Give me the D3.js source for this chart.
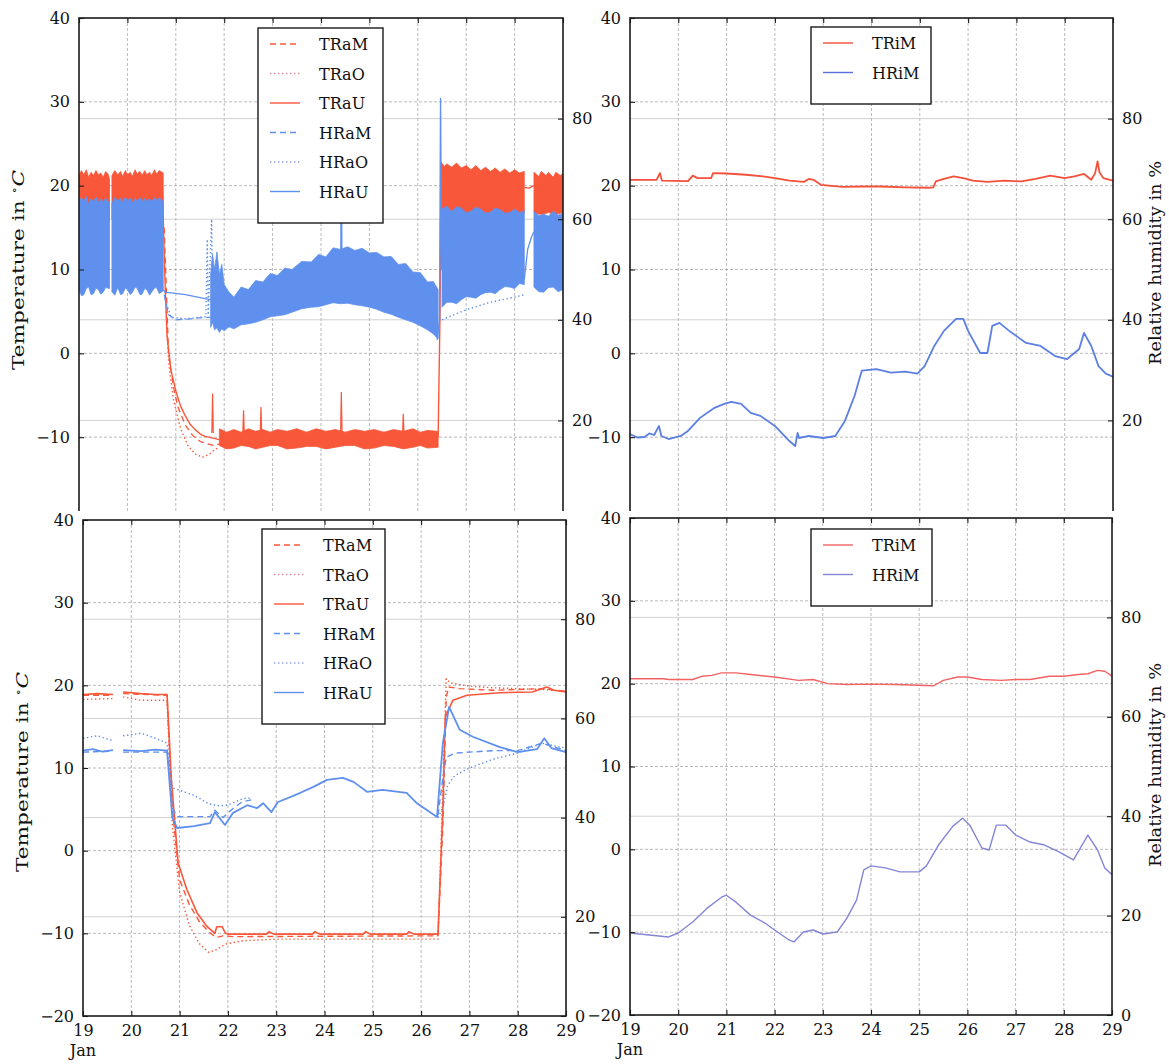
<!DOCTYPE html>
<html><head><meta charset="utf-8">
<script src="https://cdn.jsdelivr.net/npm/d3@7"></script>
<style>
body{margin:0;background:#fff}
svg{display:block}
text{font-family:"DejaVu Serif","Liberation Serif",serif;fill:#111}
</style>
</head><body>
<svg id="c" width="1169" height="1064"></svg>
<script>
// ---------------- DATA ----------------
const dayTicks = [19,20,21,22,23,24,25,26,27,28,29];
const tempTicks = [-20,-10,0,10,20,30,40];
const humTicks = [0,20,40,60,80];
const legendTop = ["TRaM","TRaO","TRaU","HRaM","HRaO","HRaU"];
const legendIn = ["TRiM","HRiM"];

// Top-left: oscillating bands [day, low, high]
const tlTRaBand1 = [[19.0,15.5,21.2],[19.05,15.8,21.8],[19.1,15.8,21.3],[19.15,16.0,21.9],[19.2,16.0,21.0],[19.25,15.7,21.6],[19.3,15.6,21.2],[19.35,15.9,21.8],[19.4,15.9,21.3],[19.45,16.0,21.5],[19.5,16.1,21.0],[19.55,15.9,21.7],[19.6,15.8,21.4],[19.63,15.8,20.8]];
const tlTRaBand2 = [[19.68,16.0,21.2],[19.74,15.9,21.8],[19.8,15.8,21.3],[19.86,16.0,21.7],[19.9,16.0,21.1],[19.96,15.8,21.8],[20.0,15.7,21.3],[20.06,16.0,21.6],[20.1,16.0,21.1],[20.16,15.8,21.9],[20.2,15.8,21.4],[20.26,16.0,21.7],[20.3,16.1,21.2],[20.36,15.8,21.8],[20.4,15.9,21.3],[20.46,16.0,21.6],[20.5,16.0,21.2],[20.56,15.8,21.9],[20.6,15.7,21.4],[20.66,15.9,21.8],[20.74,16.0,21.5]];
const tlTRaBand3 = [[21.9,-11.0,-9.0],[22.05,-11.4,-9.4],[22.2,-11.3,-9.1],[22.35,-11.0,-9.4],[22.5,-11.1,-9.0],[22.65,-11.4,-9.3],[22.8,-11.2,-9.1],[22.95,-11.0,-9.4],[23.1,-11.0,-9.1],[23.3,-11.4,-9.3],[23.5,-11.3,-9.0],[23.7,-11.1,-9.4],[23.9,-11.1,-9.0],[24.1,-11.4,-9.3],[24.3,-11.2,-9.1],[24.5,-11.0,-9.4],[24.7,-11.0,-9.1],[24.9,-11.4,-9.3],[25.1,-11.3,-9.1],[25.3,-11.0,-9.4],[25.5,-11.1,-9.1],[25.7,-11.4,-9.3],[25.9,-11.2,-9.0],[26.05,-11.0,-9.4],[26.2,-11.3,-9.2],[26.42,-11.2,-9.3]];
const tlTRaBand4 = [[26.48,16.5,22.8],[26.55,16.6,22.3],[26.6,16.6,22.6],[26.7,16.4,22.2],[26.8,16.4,22.7],[26.9,16.6,22.1],[27.0,16.6,22.4],[27.1,16.5,21.9],[27.2,16.5,22.4],[27.3,16.6,21.8],[27.4,16.7,22.2],[27.5,16.5,21.7],[27.6,16.5,22.1],[27.7,16.6,21.6],[27.8,16.6,22.0],[27.9,16.5,21.5],[28.0,16.5,21.9],[28.1,16.6,21.5],[28.2,16.7,21.7]];
const tlTRaBand5 = [[28.4,16.8,21.6],[28.5,16.6,21.1],[28.55,16.6,21.7],[28.65,16.7,21.2],[28.7,16.8,21.6],[28.8,16.6,21.0],[28.85,16.6,21.6],[28.95,16.7,21.2],[29.0,16.8,21.5]];
const tlTRaSpikes = [[21.76,-4.8],[22.4,-6.8],[22.76,-6.4],[24.42,-4.6],[25.7,-7.2]];
const tlTRaGap = [[28.2,19.8],[28.3,19.7],[28.4,20.0]];
const tlTRaU = [[20.72,20.5],[20.78,8],[20.82,2],[20.9,-2],[21.0,-4.5],[21.1,-6.3],[21.2,-7.5],[21.3,-8.5],[21.4,-9.1],[21.5,-9.6],[21.6,-9.9],[21.68,-10],[21.9,-10.3],[26.0,null],[26.42,-10],[26.46,5],[26.48,22]];
const tlTRaM = [[20.76,15],[20.85,0],[20.95,-4],[21.05,-6.5],[21.2,-8.6],[21.35,-9.8],[21.5,-10.5],[21.65,-10.8],[21.8,-11],[21.9,-10.8]];
const tlTRaO = [[20.8,5],[20.85,-1],[20.95,-5.5],[21.1,-9],[21.25,-11],[21.4,-12],[21.55,-12.4],[21.7,-12],[21.8,-11.5],[21.9,-11.2]];

const tlHRaBand1 = [[19.0,46.0,63.5],[19.05,44.8,64.3],[19.1,45.0,63.6],[19.15,46.2,64.5],[19.2,46.5,63.0],[19.25,45.0,64.1],[19.3,45.2,63.4],[19.35,46.3,64.4],[19.4,46.0,63.4],[19.45,45.1,64.0],[19.5,45.5,63.3],[19.55,46.4,64.2],[19.63,46.2,63.2]];
const tlHRaBand2 = [[19.68,45.6,63.2],[19.74,44.9,64.3],[19.8,46.4,63.6],[19.86,45.0,64.2],[19.9,45.2,63.4],[19.96,46.3,64.4],[20.0,46.0,63.6],[20.06,45.0,64.2],[20.1,45.4,63.3],[20.16,46.5,64.1],[20.2,46.3,63.5],[20.26,45.0,64.3],[20.3,45.1,63.5],[20.36,46.2,64.2],[20.4,46.0,63.5],[20.46,44.9,64.1],[20.5,45.5,63.4],[20.56,46.3,64.3],[20.6,46.4,63.8],[20.66,45.2,64.2],[20.74,45.8,63.5]];
const tlHRaBand3 = [[21.72,38.5,49],[21.76,39.5,53],[21.8,38,50],[21.85,38.4,53.5],[21.9,37.5,49],[21.95,38.2,51],[22.0,37.8,47],[22.1,38.6,45.5],[22.2,38.2,44.5],[22.35,39.0,46.5],[22.5,39.2,46],[22.65,39.5,47.8],[22.8,40,47.5],[22.95,40.6,49.2],[23.1,40.8,48.8],[23.25,41.0,50.3],[23.4,41.5,50],[23.6,42.2,51.6],[23.8,42.5,51.5],[23.95,42.6,53],[24.1,43,52.5],[24.25,43.4,54.3],[24.4,43.2,54],[24.55,43.3,54.5],[24.7,43,53.8],[24.85,42.8,54.2],[25.0,42.5,53.3],[25.15,42.1,53.4],[25.3,41.5,52.5],[25.45,41.1,52.6],[25.6,40.5,51],[25.75,40.0,51.2],[25.9,39.5,49.5],[26.05,38.8,49.4],[26.2,38,47.5],[26.32,37.2,47.6],[26.42,36.2,46]];
const tlHRaBand4 = [[26.5,42.5,62.0],[26.6,43.5,62.6],[26.7,43.5,61.5],[26.8,43.2,62.5],[26.9,44.0,62.2],[27.0,44.6,61.3],[27.1,44.5,61.6],[27.2,44.3,62.4],[27.3,45.0,62.0],[27.4,45.4,61.2],[27.5,45.5,61.4],[27.6,45.2,62.2],[27.7,46.0,61.9],[27.8,46.6,61.2],[27.9,46.5,61.3],[28.0,46.2,62.0],[28.1,47.2,61.3],[28.2,47.0,61.7]];
const tlHRaBand5 = [[28.4,46.5,61.5],[28.5,45.6,60.7],[28.6,45.5,61.0],[28.7,46.4,60.6],[28.8,46.5,61.6],[28.9,45.6,60.8],[29.0,46.0,61.2]];
const tlHRaGap = [[28.2,48],[28.27,54],[28.35,56.5],[28.4,57.5]];
const tlHRaU = [[20.74,46],[20.78,45.5],[21.2,45],[21.6,44.2],[21.72,44],[24.0,null],[24.41,53],[24.42,77.5],[24.43,53],[25.0,null],[26.4,36],[26.45,40],[26.47,84],[26.49,50],[26.5,55]];
const tlHRaM = [[20.76,45],[20.85,41],[21.0,40.0],[21.3,40.2],[21.6,40.5],[21.72,40.5]];
const tlHRaO = [[20.78,44],[20.9,40.5],[21.2,40.2],[21.5,40.5],[21.62,40.6],[21.65,56],[21.67,41],[21.74,60],[21.76,41],[22.0,null],[26.5,40],[27.0,42],[27.5,43.5],[28.0,44.5],[28.2,45]];

// Top-right
const trTRiM = [[19.0,20.7],[19.55,20.7],[19.62,21.5],[19.66,20.6],[20.2,20.55],[20.3,21.2],[20.4,20.9],[20.68,20.9],[20.72,21.5],[21.0,21.45],[21.4,21.3],[21.75,21.1],[22.0,20.9],[22.3,20.6],[22.6,20.45],[22.7,20.8],[22.8,20.7],[22.95,20.1],[23.4,19.85],[23.8,19.9],[24.2,19.9],[24.7,19.8],[25.2,19.75],[25.28,19.8],[25.33,20.5],[25.5,20.8],[25.7,21.1],[25.9,20.9],[26.1,20.6],[26.4,20.45],[26.75,20.6],[27.1,20.5],[27.4,20.8],[27.7,21.2],[28.0,20.9],[28.2,21.1],[28.4,21.4],[28.55,20.7],[28.63,21.5],[28.68,22.9],[28.72,21.6],[28.8,20.9],[29.0,20.6]];
const trHRiM = [[19.0,17.3],[19.15,16.6],[19.3,16.7],[19.4,17.4],[19.5,17.1],[19.6,18.9],[19.65,16.9],[19.8,16.3],[20.05,16.9],[20.2,17.9],[20.45,20.5],[20.75,22.5],[20.95,23.3],[21.1,23.7],[21.3,23.3],[21.5,21.5],[21.7,20.9],[22.0,18.9],[22.3,15.9],[22.42,14.9],[22.47,17.5],[22.5,16.5],[22.7,16.9],[23.0,16.5],[23.25,16.9],[23.45,19.9],[23.65,24.9],[23.8,29.9],[24.1,30.2],[24.4,29.5],[24.7,29.7],[24.95,29.3],[25.1,30.8],[25.3,34.8],[25.5,37.8],[25.75,40.2],[25.9,40.2],[26.0,37.8],[26.25,33.4],[26.4,33.4],[26.5,38.8],[26.65,39.4],[26.85,37.8],[27.2,35.4],[27.5,34.8],[27.8,32.8],[28.05,32.2],[28.3,34.2],[28.4,37.4],[28.55,34.8],[28.7,30.8],[28.85,29.3],[29.0,28.7]];

// Bottom-left
const blTRaU = [[19,18.9],[19.3,19.0],[19.62,18.9],[19.72,null],[19.83,19.2],[20.2,19.0],[20.5,18.9],[20.74,18.9],[20.83,8.6],[20.97,-1.5],[21.15,-4.7],[21.36,-7.5],[21.57,-9.2],[21.73,-10.0],[21.77,-9.2],[21.88,-9.2],[21.95,-10.0],[22.0,-10.1],[22.8,-10.1],[22.85,-9.8],[22.95,-10.1],[23.75,-10.1],[23.8,-9.8],[23.9,-10.1],[24.8,-10.1],[24.85,-9.8],[24.95,-10.1],[25.7,-10.1],[25.75,-9.8],[25.85,-10.1],[26.35,-10.1],[26.45,5],[26.5,16.2],[26.66,18.2],[26.95,18.8],[27.63,19.1],[28.3,19.2],[28.5,19.6],[28.6,19.8],[28.75,19.4],[29,19.2]];
const blTRaM = [[19,18.8],[19.62,18.8],[19.72,null],[19.83,19.0],[20.74,18.8],[20.85,5],[21.0,-3.5],[21.2,-6.5],[21.4,-8.5],[21.6,-9.8],[21.75,-10.5],[21.9,-10.3],[22.1,-10.4],[26.35,-10.3],[26.45,3],[26.52,18.5],[26.57,19.8],[26.8,19.6],[27.5,19.4],[28.5,19.6],[29,19.3]];
const blTRaO = [[19,18.3],[19.62,18.4],[19.72,null],[19.83,18.6],[20.2,18.2],[20.74,18.2],[20.85,3],[21.0,-5],[21.2,-9],[21.4,-11.2],[21.6,-12.3],[21.75,-12],[21.95,-11.3],[22.3,-10.9],[23,-10.7],[26.35,-10.7],[26.45,8],[26.52,20.8],[26.6,20.3],[27,19.9],[27.5,19.7],[28.5,19.5],[29,19.3]];
const blHRaU = [[19,53.5],[19.2,53.8],[19.4,53.3],[19.62,53.6],[19.72,null],[19.83,53.6],[20.2,53.4],[20.5,53.7],[20.74,53.5],[20.85,40],[20.95,37.9],[21.3,38.3],[21.63,38.9],[21.73,41.1],[21.94,38.5],[22.1,40.9],[22.4,42.5],[22.6,41.9],[22.73,42.9],[22.9,41.1],[23.03,43.1],[23.5,45],[23.77,46.2],[24.05,47.6],[24.38,48],[24.6,47.2],[24.88,45.2],[25.2,45.6],[25.7,45],[25.9,43],[26.33,40.1],[26.45,55],[26.58,62.3],[26.8,57.7],[27.07,56.3],[27.63,54.2],[28.0,53.2],[28.4,53.8],[28.55,56],[28.7,54],[29,53.2]];
const blHRaM = [[19,53.2],[19.62,53.4],[19.72,null],[19.83,53.2],[20.74,53.2],[20.85,42],[20.95,40.2],[21.63,40.2],[21.73,41.5],[21.9,40],[22.1,41.8],[22.3,43.2],[22.5,43.6],[22.6,null],[26.35,40.5],[26.45,48],[26.52,52.2],[26.7,53],[27,53.2],[27.5,53.5],[28,53.5],[28.5,55],[29,53.5]];
const blHRaO = [[19,56],[19.3,56.5],[19.62,55.5],[19.72,null],[19.83,56.5],[20.2,57],[20.5,56],[20.74,55],[20.85,46],[21.0,45.5],[21.3,44.5],[21.6,42.8],[21.8,42.4],[22.0,42.5],[22.3,43.8],[22.5,44],[22.6,null],[26.35,40],[26.45,42],[26.55,46.5],[26.7,48.5],[27,50],[27.5,51.8],[28,53],[28.5,55],[29,54]];

// Bottom-right
const brTRiM = [[19.0,20.6],[19.7,20.6],[19.8,20.5],[20.3,20.5],[20.5,20.9],[20.7,21.0],[20.9,21.3],[21.2,21.3],[21.5,21.1],[22.0,20.8],[22.5,20.4],[22.8,20.5],[23.1,20.0],[23.5,19.9],[24.0,19.95],[24.5,19.9],[25.0,19.8],[25.3,19.75],[25.5,20.4],[25.8,20.8],[26.0,20.8],[26.3,20.5],[26.7,20.4],[27.0,20.5],[27.3,20.5],[27.7,20.9],[28.0,20.9],[28.3,21.1],[28.5,21.2],[28.7,21.6],[28.85,21.5],[29.0,20.9]];
const brHRiM = [[19.0,16.5],[19.4,16.1],[19.8,15.7],[20.0,16.5],[20.3,18.7],[20.6,21.5],[20.9,23.7],[21.0,24.1],[21.2,22.7],[21.5,20.1],[21.8,18.5],[22.0,17.1],[22.3,15.1],[22.4,14.7],[22.6,16.7],[22.8,17.1],[23.0,16.3],[23.3,16.7],[23.5,19.5],[23.7,23.1],[23.85,29.2],[24.0,30.0],[24.3,29.6],[24.6,28.8],[25.0,28.8],[25.15,30.0],[25.4,34.2],[25.7,38.0],[25.9,39.6],[26.05,38.2],[26.3,33.6],[26.45,33.2],[26.6,38.2],[26.8,38.2],[27.0,36.2],[27.3,34.8],[27.6,34.2],[27.9,32.8],[28.2,31.2],[28.5,36.2],[28.7,33.2],[28.85,29.6],[29.0,28.2]];

// ---------------- DRAW ----------------
const RED = "#f9573a", BLUE = "#5f90ee";
const DASH = "6,4", DOT = "1.4,2.6";
const FONT = '"DejaVu Serif","Liberation Serif",serif';
const FS = 16;
const svg = d3.select("#c");

function panel(cfg, id){
  const g = svg.append("g");
  const x = d3.scaleLinear().domain([19,29]).range([cfg.x0,cfg.x1]);
  const yT = d3.scaleLinear().domain([-20,40]).range([cfg.y1,cfg.y0]);
  const yH = d3.scaleLinear().domain([0,100]).range([cfg.y1,cfg.y0]);
  g.append("rect").attr("x",cfg.x0).attr("y",cfg.y0).attr("width",cfg.x1-cfg.x0).attr("height",cfg.y1-cfg.y0).attr("fill","#fff");
  g.append("clipPath").attr("id",id).append("rect").attr("x",cfg.x0).attr("y",cfg.y0).attr("width",cfg.x1-cfg.x0).attr("height",cfg.y1-cfg.y0);
  const grid = g.append("g");
  grid.selectAll(".vg").data(dayTicks.slice(1,-1)).join("line")
    .attr("x1",d=>x(d)).attr("x2",d=>x(d)).attr("y1",cfg.y0).attr("y2",cfg.y1)
    .attr("stroke","#8a8a8a").attr("stroke-width",0.6).attr("stroke-dasharray","3,2");
  grid.selectAll(".hg").data(tempTicks.slice(1,-1)).join("line")
    .attr("x1",cfg.x0).attr("x2",cfg.x1).attr("y1",d=>yT(d)).attr("y2",d=>yT(d))
    .attr("stroke","#8a8a8a").attr("stroke-width",0.6).attr("stroke-dasharray","3,2");
  grid.selectAll(".hh").data(humTicks.slice(1)).join("line")
    .attr("x1",cfg.x0).attr("x2",cfg.x1).attr("y1",d=>yH(d)).attr("y2",d=>yH(d))
    .attr("stroke","#bdbdbd").attr("stroke-width",0.7);
  const data = g.append("g").attr("clip-path",`url(#${id})`);
  return {g, x, yT, yH, data, cfg};
}

function frame(p, bottom){
  const {g,x,yT,yH,cfg} = p;
  g.append("rect").attr("x",cfg.x0).attr("y",cfg.y0).attr("width",cfg.x1-cfg.x0).attr("height",cfg.y1-cfg.y0)
    .attr("fill","none").attr("stroke","#1a1a1a").attr("stroke-width",1.6);
  const tv = bottom ? tempTicks : tempTicks.slice(1);
  const hv = bottom ? humTicks : humTicks.slice(1);
  const ax = d3.axisLeft(yT).tickValues(tv).tickSizeInner(-5).tickSizeOuter(0).tickPadding(9)
    .tickFormat(d=>d<0?"\u2212"+Math.abs(d):d);
  const ga = g.append("g").attr("transform",`translate(${cfg.x0},0)`).call(ax);
  const ar = d3.axisRight(yH).tickValues(hv).tickSizeInner(-5).tickSizeOuter(0).tickPadding(9);
  const gr = g.append("g").attr("transform",`translate(${cfg.x1},0)`).call(ar);
  const ab = d3.axisBottom(x).tickValues(dayTicks).tickSizeInner(-5).tickSizeOuter(0).tickPadding(9);
  const gb = g.append("g").attr("transform",`translate(0,${cfg.y1})`).call(ab);
  const at = d3.axisTop(x).tickValues(dayTicks).tickSizeInner(-5).tickSizeOuter(0).tickFormat("");
  const gt = g.append("g").attr("transform",`translate(0,${cfg.y0})`).call(at);
  [ga,gr,gb,gt].forEach(s=>{
    s.attr("font-family",FONT).attr("font-size",FS);
    s.select(".domain").remove();
    s.selectAll("line").attr("stroke","#1a1a1a").attr("stroke-width",1.1);
    s.selectAll("text").attr("font-family",FONT).attr("font-size",FS).attr("fill","#111");
  });
  if(!bottom) gb.selectAll("text").remove();
  else g.append("text").attr("x",x(19)).attr("y",cfg.y1+40).attr("text-anchor","middle").attr("font-size",FS).text("Jan");
}

function line(p, arr, scale, color, dash, w){
  p.data.append("path").datum(arr)
    .attr("d", d3.line().defined(d=>d[1]!=null).x(d=>p.x(d[0])).y(d=>scale(d[1])))
    .attr("fill","none").attr("stroke",color).attr("stroke-width",w||1.3)
    .attr("stroke-dasharray",dash||null).attr("stroke-linejoin","round");
}
function band(p, arr, scale, color){
  p.data.append("path").datum(arr)
    .attr("d", d3.area().x(d=>p.x(d[0])).y0(d=>scale(d[1])).y1(d=>scale(d[2])))
    .attr("fill",color).attr("stroke",color).attr("stroke-width",0.8).attr("stroke-linejoin","round");
}
function spikes(p, arr, base, scale, color){
  p.data.selectAll(null).data(arr).join("path")
    .attr("d", d=>d3.line()([[p.x(d[0]-0.015),scale(base)],[p.x(d[0]),scale(d[1])],[p.x(d[0]+0.015),scale(base)]]))
    .attr("fill","none").attr("stroke",color).attr("stroke-width",1.2);
}

function legend(g, x0, y0, w, items, styles){
  const h = 18 + items.length*29.5;
  g.append("rect").attr("x",x0).attr("y",y0).attr("width",w).attr("height",h)
    .attr("fill","#fff").attr("stroke","#1a1a1a").attr("stroke-width",1.4);
  items.forEach((name,i)=>{
    const yy = y0 + 16 + i*29.5;
    const s = styles[i];
    g.append("line").attr("x1",x0+12).attr("x2",x0+42).attr("y1",yy).attr("y2",yy)
      .attr("stroke",s.c).attr("stroke-width",1.4).attr("stroke-dasharray",s.d||null);
    g.append("text").attr("x",x0+61).attr("y",yy+6).attr("font-size",FS).text(name);
  });
}
const topStyles = [{c:RED,d:DASH},{c:"#e08a9a",d:DOT},{c:RED},{c:BLUE,d:DASH},{c:"#8f9fd8",d:DOT},{c:BLUE}];

function axisLabels(cyT, cyH, xT){
  svg.append("text").attr("transform",`translate(${xT},${cyT}) rotate(-90)`).attr("text-anchor","middle").attr("font-size",17)
    .attr("textLength",200).attr("lengthAdjust","spacingAndGlyphs")
    .html('Temperature in <tspan baseline-shift="super" font-size="11">\u2218</tspan><tspan font-style="italic">C</tspan>');
  svg.append("text").attr("transform",`translate(1161,${cyH}) rotate(-90)`).attr("text-anchor","middle").attr("font-size",17)
    .attr("textLength",204).attr("lengthAdjust","spacingAndGlyphs")
    .text("Relative humidity in %");
}

// ---------- top row ----------
const TL = panel({x0:79,x1:563,y0:18,y1:521},"cTL");
[tlTRaBand1,tlTRaBand2,tlTRaBand3,tlTRaBand4,tlTRaBand5].forEach(b=>band(TL,b,TL.yT,RED));
spikes(TL, tlTRaSpikes, -9.5, TL.yT, RED);
line(TL, tlTRaGap, TL.yT, RED);
line(TL, tlTRaO, TL.yT, RED, DOT, 1.4);
line(TL, tlTRaM, TL.yT, RED, DASH, 1.3);
line(TL, tlTRaU, TL.yT, RED, null, 1.4);
[tlHRaBand1,tlHRaBand2,tlHRaBand3,tlHRaBand4,tlHRaBand5].forEach(b=>band(TL,b,TL.yH,BLUE));
line(TL, tlHRaGap, TL.yH, BLUE);
line(TL, tlHRaO, TL.yH, BLUE, DOT, 1.4);
line(TL, tlHRaM, TL.yH, BLUE, DASH, 1.3);
line(TL, tlHRaU, TL.yH, BLUE, null, 1.4);
frame(TL,false);
legend(TL.g, 258, 28, 125, legendTop, topStyles);

const TR = panel({x0:630,x1:1113,y0:18,y1:521},"cTR");
line(TR, trTRiM, TR.yT, "#f4503a", null, 1.8);
line(TR, trHRiM, TR.yH, "#5c7fe2", null, 1.8);
frame(TR,false);
legend(TR.g, 811, 27, 120, legendIn, [{c:"#f4503a"},{c:"#5a6ee0"}]);
axisLabels(270, 263, 24);

// white sheet of the lower figure
svg.append("rect").attr("x",0).attr("y",511).attr("width",1169).attr("height",553).attr("fill","#fff");

// ---------- bottom row ----------
const BL = panel({x0:83,x1:566,y0:520,y1:1016},"cBL");
line(BL, blTRaO, BL.yT, RED, DOT, 1.4);
line(BL, blTRaM, BL.yT, RED, DASH, 1.4);
line(BL, blTRaU, BL.yT, RED, null, 1.6);
line(BL, blHRaO, BL.yH, BLUE, DOT, 1.4);
line(BL, blHRaM, BL.yH, BLUE, DASH, 1.4);
line(BL, blHRaU, BL.yH, BLUE, null, 1.8);
frame(BL,true);
legend(BL.g, 262, 529, 123, legendTop, topStyles);

const BR = panel({x0:630,x1:1112,y0:518,y1:1015},"cBR");
line(BR, brTRiM, BR.yT, "#f26262", null, 1.4);
line(BR, brHRiM, BR.yH, "#8585d8", null, 1.4);
frame(BR,true);
legend(BR.g, 811, 529, 121, legendIn, [{c:"#f26262"},{c:"#8585d8"}]);
axisLabels(772, 765, 28);
</script>
</body></html>
